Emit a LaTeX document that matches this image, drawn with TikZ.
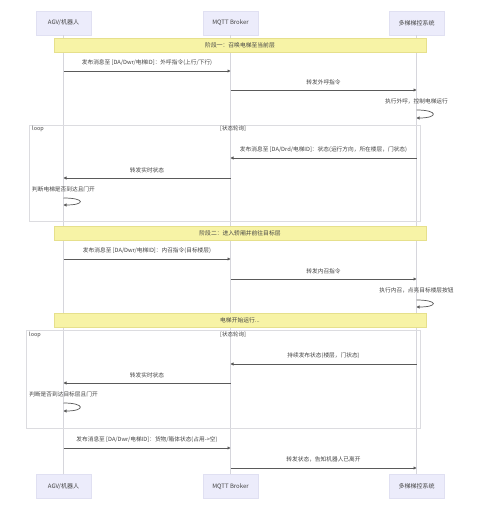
\documentclass[tikz,border=0pt]{standalone}
\usepackage{fontspec}
\setmainfont{Noto Sans CJK SC}
\usetikzlibrary{arrows.meta}
\definecolor{actorfill}{HTML}{ECECFB}
\definecolor{actorline}{HTML}{E0E0F2}
\definecolor{lifeclr}{HTML}{D6D6DC}
\definecolor{msgclr}{HTML}{5A5A5A}
\definecolor{txt}{HTML}{444444}
\definecolor{notefill}{HTML}{F7F3A6}
\definecolor{noteline}{HTML}{E6E08C}
\definecolor{frameclr}{HTML}{DCDCE0}
\begin{document}
\begin{tikzpicture}[x=1pt,y=-1pt,
 actor/.style={draw=actorline, fill=actorfill, minimum width=55pt, minimum height=24pt, inner sep=0pt, font=\fontsize{6}{7}\selectfont, text=txt},
 life/.style={draw=lifeclr, line width=0.7pt},
 msg/.style={draw=msgclr, line width=0.8pt, -{Triangle[length=3pt,width=3pt]}},
 selfmsg/.style={draw=msgclr, line width=0.7pt, -{Triangle[length=3pt,width=3pt]}},
 lbl/.style={font=\fontsize{5.7}{6.5}\selectfont, text=txt, inner sep=0pt},
 notebox/.style={draw=noteline, fill=notefill, minimum height=14pt, minimum width=372pt, inner sep=0pt, font=\fontsize{5.8}{7}\selectfont, text=txt},
 frame/.style={draw=frameclr, line width=0.7pt},
 framelbl/.style={font=\fontsize{5.5}{6.5}\selectfont, text=txt, inner sep=0pt}
]
\useasboundingbox[fill=white] (0,0) rectangle (480,510);

% participants
\node[actor] (a1) at (63.5,23) {AGV/机器人};
\node[actor] (b1) at (230.5,23) {MQTT Broker};
\node[actor] (c1) at (416.5,23) {多梯梯控系统};
\node[actor] (a2) at (63.5,486.5) {AGV/机器人};
\node[actor] (b2) at (230.5,486.5) {MQTT Broker};
\node[actor] (c2) at (416.5,486.5) {多梯梯控系统};

% lifelines
\draw[life] (a1.south) -- (a2.north);
\draw[life] (b1.south) -- (b2.north);
\draw[life] (c1.south) -- (c2.north);

% loop frames
\draw[frame] (29,125) rectangle (420,221);
\node[framelbl, anchor=west] (lp1) at (32,129) {loop};
\node[framelbl] (lc1) at (233,129) {[状态轮询]};
\draw[frame] (26,330) rectangle (420,428);
\node[framelbl, anchor=west] (lp2) at (29,335) {loop};
\node[framelbl] (lc2) at (233,335) {[状态轮询]};

% stage 1
\node[notebox] (n1) at (240,45) {阶段一：召唤电梯至当前层};
\draw[msg] (a1 |- 0,71) -- node[lbl, above=5pt] {发布消息至 [DA/Dwr/电梯ID]：外呼指令(上行/下行)} (b1 |- 0,71);
\draw[msg] (b1 |- 0,90) -- node[lbl, above=5pt] {转发外呼指令} (c1 |- 0,90);
\node[lbl] (s1) at (c1 |- 0,101) {执行外呼，控制电梯运行};
\draw[selfmsg] (c1 |- 0,110) .. controls +(22,0) and +(22,0) .. (c1 |- 0,118);

\draw[msg] (c1 |- 0,158) -- node[lbl, above=5pt] {发布消息至 [DA/Drd/电梯ID]：状态(运行方向，所在楼层，门状态)} (b1 |- 0,158);
\draw[msg] (b1 |- 0,178) -- node[lbl, above=5pt] {转发实时状态} (a1 |- 0,178);
\node[lbl] (s2) at (a1 |- 0,189) {判断电梯是否到达且门开};
\draw[selfmsg] (a1 |- 0,198) .. controls +(22,0) and +(22,0) .. (a1 |- 0,205);

% stage 2
\node[notebox] (n2) at (240,233.5) {阶段二：进入轿厢并前往目标层};
\draw[msg] (a1 |- 0,259) -- node[lbl, above=5pt] {发布消息至 [DA/Dwr/电梯ID]：内召指令(目标楼层)} (b1 |- 0,259);
\draw[msg] (b1 |- 0,279) -- node[lbl, above=5pt] {转发内召指令} (c1 |- 0,279);
\node[lbl] (s3) at (c1 |- 0,290) {执行内召，点亮目标楼层按钮};
\draw[selfmsg] (c1 |- 0,300) .. controls +(22,0) and +(22,0) .. (c1 |- 0,307);

\node[notebox] (n3) at (240,320) {电梯开始运行...};

\draw[msg] (c1 |- 0,364) -- node[lbl, above=5pt] {持续发布状态(楼层，门状态)} (b1 |- 0,364);
\draw[msg] (b1 |- 0,383) -- node[lbl, above=5pt] {转发实时状态} (a1 |- 0,383);
\node[lbl] (s4) at (a1 |- 0,394) {判断是否到达目标层且门开};
\draw[selfmsg] (a1 |- 0,403) .. controls +(22,0) and +(22,0) .. (a1 |- 0,411);

\draw[msg] (a1 |- 0,448) -- node[lbl, above=5pt] {发布消息至 [DA/Dwr/电梯ID]：货物/箱体状态(占用->空)} (b1 |- 0,448);
\draw[msg] (b1 |- 0,468) -- node[lbl, above=5pt] {转发状态，告知机器人已离开} (c1 |- 0,468);
\end{tikzpicture}
\end{document}
